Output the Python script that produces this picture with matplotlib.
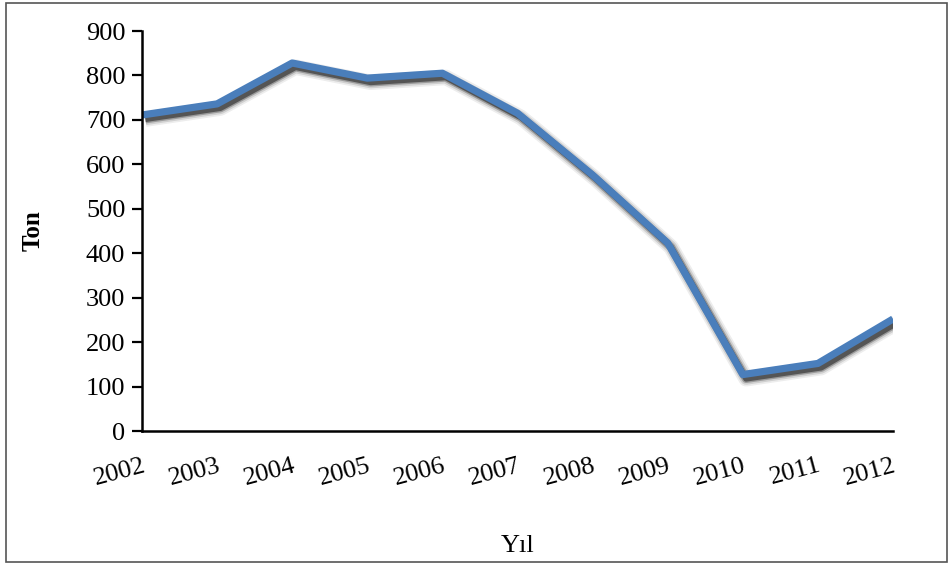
import matplotlib
matplotlib.use("Agg")
import matplotlib.pyplot as plt
import matplotlib.patheffects as pe
from matplotlib.patches import Rectangle

years = ["2002", "2003", "2004", "2005", "2006", "2007",
         "2008", "2009", "2010", "2011", "2012"]
tons = [711, 736, 828, 794, 805, 715, 576, 423, 127, 152, 252]
y_ticks = [0, 100, 200, 300, 400, 500, 600, 700, 800, 900]

plt.rcParams["font.family"] = ["Liberation Serif", "DejaVu Serif"]

W, H = 948, 563
fig = plt.figure(figsize=(W / 100, H / 100), dpi=100)
fig.patch.set_facecolor("white")

# thin frame around the whole figure
fig.patches.append(Rectangle((6 / W, 1 / H), (W - 7) / W, (H - 4) / H,
                             transform=fig.transFigure, fill=False,
                             edgecolor="#555555", linewidth=1.2))

ax = fig.add_axes([142 / W, (H - 431) / H, (893 - 142) / W, (431 - 31) / H])

x = list(range(len(years)))
lw = 5.2
off = (2.4, -3.0)
shadow = [
    pe.SimpleLineShadow(offset=off, shadow_color="k", alpha=0.07, linewidth=lw + 6),
    pe.SimpleLineShadow(offset=off, shadow_color="k", alpha=0.12, linewidth=lw + 3.5),
    pe.SimpleLineShadow(offset=off, shadow_color="k", alpha=0.25, linewidth=lw + 1),
    pe.SimpleLineShadow(offset=off, shadow_color="k", alpha=0.45, linewidth=lw - 1),
    pe.Normal(),
]
ax.plot(x, tons, color="#4a7ebb", linewidth=lw, solid_capstyle="butt",
        solid_joinstyle="round", path_effects=shadow, clip_on=True)

ax.set_xlim(0, len(years) - 1)
ax.set_ylim(0, 900)
ax.set_yticks(y_ticks)
ax.set_xticks(x)
ax.set_xticklabels(years, rotation=15, ha="right", va="top",
                   rotation_mode="anchor", fontsize=19)
ax.tick_params(axis="x", length=0, pad=17)
ax.tick_params(axis="y", direction="out", length=7, width=1.6, pad=5,
               labelsize=19)

for side in ("top", "right"):
    ax.spines[side].set_visible(False)
for side in ("left", "bottom"):
    ax.spines[side].set_linewidth(1.8)
    ax.spines[side].set_color("black")

ax.set_ylabel("Ton", fontsize=18, fontweight="bold", labelpad=30)
ax.set_xlabel("Yıl", fontsize=19, labelpad=33)

fig.savefig("out.png", dpi=100)
